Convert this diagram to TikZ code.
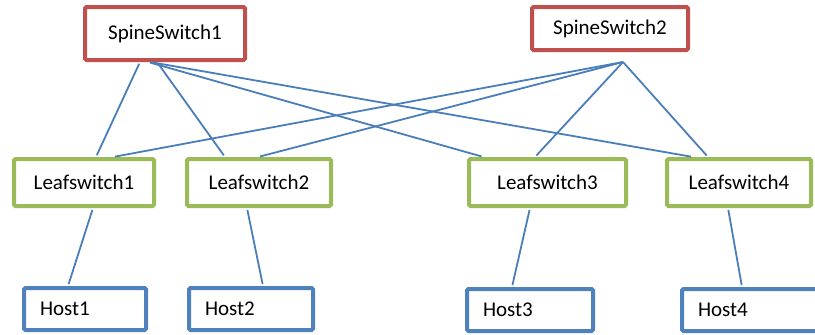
\documentclass[tikz,border=0pt]{standalone}
\usepackage{fontspec}
\setmainfont{Carlito}
\definecolor{spinered}{RGB}{192,80,77}
\definecolor{leafgreen}{RGB}{155,187,89}
\definecolor{hostblue}{RGB}{79,129,189}
\definecolor{linkblue}{RGB}{74,126,187}
\begin{document}
\begin{tikzpicture}[x=1pt,y=-1pt,
  box/.style={line width=4pt,rounded corners=1.5pt,fill=white,inner sep=0pt,
    font=\fontsize{21}{25}\selectfont},
  spine/.style={box,draw=spinered},
  leaf/.style={box,draw=leafgreen,minimum height=47pt},
  host/.style={box,draw=hostblue,minimum height=42pt,inner xsep=16pt,text width=#1,align=left},
  link/.style={draw=linkblue,line width=1.8pt,shorten <=2pt,shorten >=2pt}]

  \fill[white] (0,0) rectangle (815,335);
  \useasboundingbox (0,0) rectangle (815,335);

  % spine layer
  \node[spine,minimum width=160pt,minimum height=53pt] (spine1) at (165,33.5) {SpineSwitch1};
  \node[spine,minimum width=156pt,minimum height=43pt] (spine2) at (610,28.5) {SpineSwitch2};
  \coordinate (tap2) at ([xshift=13pt,yshift=-10pt]spine2.south);

  % leaf layer
  \node[leaf,minimum width=140pt] (leaf1) at (84,182.5) {Leafswitch1};
  \node[leaf,minimum width=144pt] (leaf2) at (259,182.5) {Leafswitch2};
  \node[leaf,minimum width=157pt] (leaf3) at (547.5,182.5) {Leafswitch3};
  \node[leaf,minimum width=144pt] (leaf4) at (739,182.5) {Leafswitch4};

  % hosts
  \node[host=90pt] (host1) at (85,309) {Host1};
  \node[host=92pt] (host2) at (251,309) {Host2};
  \node[host=94pt] (host3) at (530,310) {Host3};
  \node[host=108pt] (host4) at (752,310) {Host4};

  \draw[link] ([xshift=-25pt]spine1.south) -- ([xshift=12pt]leaf1.north);
  \draw[link] ([xshift=-8pt]spine1.south) -- ([xshift=-34pt]leaf2.north);
  \draw[link] ([xshift=-17pt]spine1.south) -- ([xshift=-64pt]leaf3.north);
  \draw[link] ([xshift=-15pt]spine1.south) -- ([xshift=-46pt]leaf4.north);

  \draw[link,shorten <=0pt] (tap2) -- ([xshift=29pt]leaf1.north);
  \draw[link,shorten <=0pt] (tap2) -- ([xshift=-1pt]leaf2.north);
  \draw[link,shorten <=0pt] (tap2) -- ([xshift=-12.5pt]leaf3.north);
  \draw[link,shorten <=0pt] (tap2) -- ([xshift=-31pt]leaf4.north);

  \draw[link] ([xshift=9pt]leaf1.south) -- ([xshift=-17pt]host1.north);
  \draw[link] ([xshift=-12pt]leaf2.south) -- ([xshift=12pt]host2.north);
  \draw[link] ([xshift=-17.5pt]leaf3.south) -- ([xshift=-18pt]host3.north);
  \draw[link] ([xshift=-11pt]leaf4.south) -- ([xshift=-10pt]host4.north);

\end{tikzpicture}
\end{document}
